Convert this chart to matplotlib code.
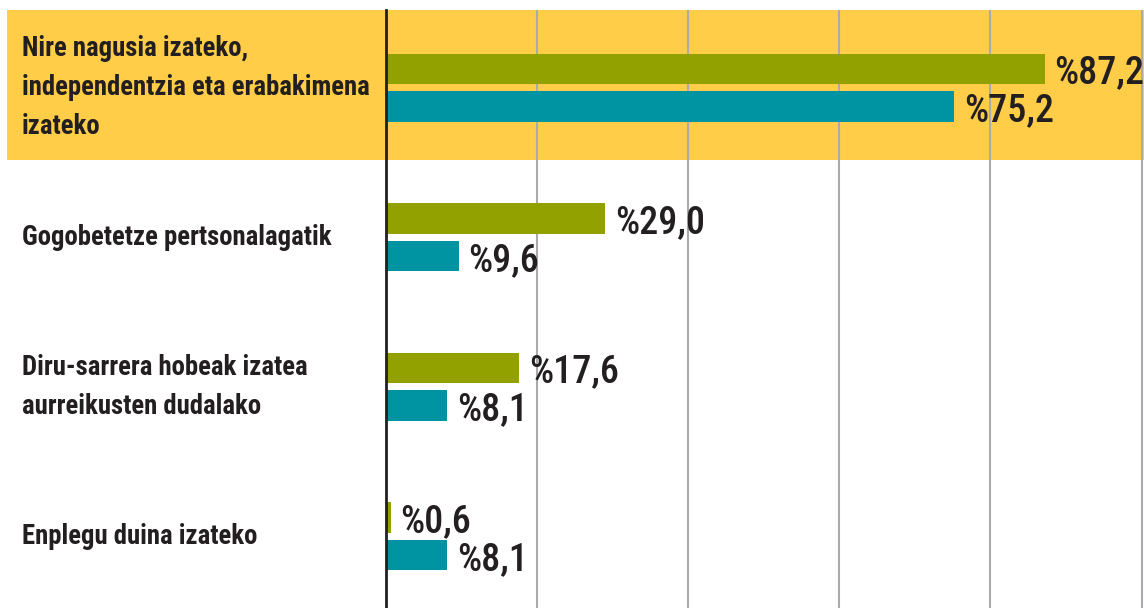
import os
import matplotlib
matplotlib.use('Agg')
import matplotlib.pyplot as plt
from matplotlib.patches import Rectangle
from matplotlib import font_manager as fm
import matplotlib.transforms as mtransforms
import numpy as np

# ---- data ----
categories = [
    "Nire nagusia izateko,\nindependentzia eta erabakimena\nizateko",
    "Gogobetetze pertsonalagatik",
    "Diru-sarrera hobeak izatea\naurreikusten dudalako",
    "Enplegu duina izateko",
]
series_a = [87.2, 29.0, 17.6, 0.6]   # olive bars
series_b = [75.2, 9.6, 8.1, 8.1]     # teal bars
highlight_index = 0
grid_ticks = [20, 40, 60, 80, 100]

# ---- style ----
W, H = 1144, 608
col_a = '#92A100'
col_b = '#0093A1'
col_hl = '#FFCD48'
col_txt = '#231F20'
col_grid = '#A9A9AE'


def pick_font(names, fallback_bold):
    files = {os.path.basename(f.fname): f.fname for f in fm.fontManager.ttflist}
    for n in names:
        if n in files:
            return fm.FontProperties(fname=files[n]), n
    return fm.FontProperties(family='DejaVu Sans',
                             weight='bold' if fallback_bold else 'normal'), 'fallback'


bold_fp, bold_name = pick_font([
    'LiberationSansNarrow-Bold.ttf', 'RobotoCondensed-Bold.ttf',
    'NotoSans-ExtraCondensedBold.ttf', 'NotoSans-CondensedBold.ttf',
    'OpenSans-CondBold.ttf', 'DejaVuSansCondensed-Bold.ttf'], True)
reg_fp, reg_name = pick_font([
    'RobotoCondensed-Medium.ttf', 'LiberationSansNarrow-Regular.ttf',
    'RobotoCondensed-Regular.ttf', 'NotoSans-ExtraCondensedMedium.ttf',
    'NotoSans-ExtraCondensed.ttf', 'NotoSans-Condensed.ttf',
    'DejaVuSansCondensed.ttf'], False)

fig = plt.figure(figsize=(W / 100, H / 100), dpi=100)
fig.patch.set_facecolor('white')
ax = fig.add_axes([386 / W, 0, 758 / W, 598 / H])
ax.patch.set_facecolor('none')
renderer = fig.canvas.get_renderer()


def fit_size(fp, sample, target_px, max_size):
    t = fig.text(0, 0, sample, fontproperties=fp, fontsize=20)
    w = t.get_window_extent(renderer).width
    t.remove()
    return min(max_size, 20 * target_px / w)


val_size = fit_size(reg_fp, '%29,0', 90, 29)
cat_size = fit_size(bold_fp, 'independentzia eta erabakimena', 347, 24)

y = np.arange(len(categories))
h = 0.204
off = 0.127
ax.barh(y - off, series_a, height=h, color=col_a, zorder=3)
ax.barh(y + off, series_b, height=h, color=col_b, zorder=3)

ax.set_xlim(0, 100.33)
ax.set_ylim(len(categories) - 0.52, -0.52)

ax.set_xticks(grid_ticks)
ax.grid(axis='x', color=col_grid, linewidth=1.5, zorder=1)
ax.tick_params(left=False, bottom=False, labelleft=False, labelbottom=False)
for s in ['top', 'right', 'bottom']:
    ax.spines[s].set_visible(False)
ax.spines['left'].set_color(col_txt)
ax.spines['left'].set_linewidth(2)
ax.spines['left'].set_zorder(4)


def fmt(v):
    return ('%' + f'{v:.1f}').replace('.', ',')


for yi, va_, vb_ in zip(y, series_a, series_b):
    for v, yy in ((va_, yi - off), (vb_, yi + off)):
        ax.annotate(fmt(v), (v, yy), xytext=(7, 0), textcoords='offset points',
                    ha='left', va='center_baseline', fontproperties=reg_fp,
                    fontsize=val_size, color=col_txt, annotation_clip=False)

blend = mtransforms.blended_transform_factory(fig.transFigure, ax.transData)

# highlight band
rect = Rectangle((7 / W, highlight_index - 0.52), 1 - 7 / W, 1.0,
                 transform=blend, facecolor=col_hl, edgecolor='none', zorder=-1)
fig.add_artist(rect)

for yi, cat in zip(y, categories):
    fig.text(22 / W, yi, cat, transform=blend, ha='left', va='center',
             fontproperties=bold_fp, fontsize=cat_size, color=col_txt,
             linespacing=1.58)

fig.savefig('out.png', dpi=100)
